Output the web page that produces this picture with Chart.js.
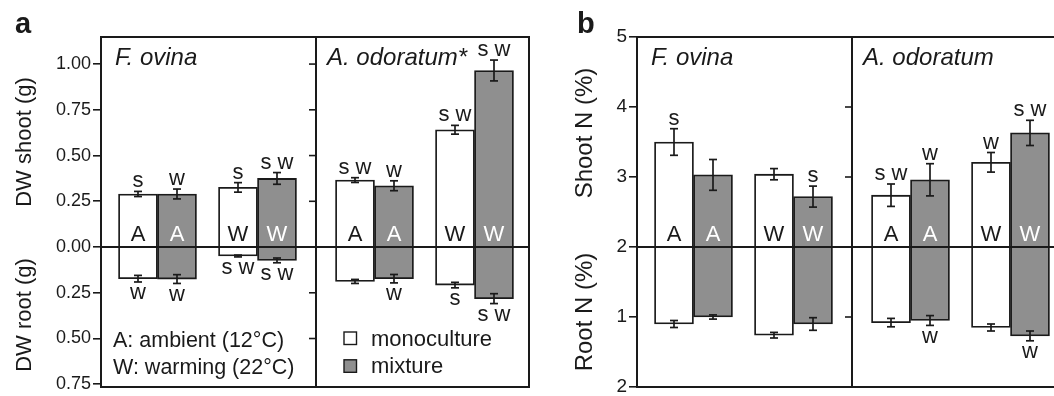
<!DOCTYPE html>
<html><head><meta charset="utf-8">
<script src="https://cdn.jsdelivr.net/npm/chart.js@4"></script>
<style>
html,body{margin:0;padding:0;background:#fff;overflow:hidden;width:1054px;height:396px}
#wa{position:absolute;left:0;top:0;width:540px;height:396px}
#wb{position:absolute;left:535px;top:0;width:540px;height:396px}
</style></head><body>
<div id="wa"><canvas id="ca" width="540" height="396"></canvas></div>
<div id="wb"><canvas id="cb" width="540" height="396"></canvas></div>
<script>
// ---------- categories ----------
const species = ['F. ovina', 'A. odoratum'];
const treatments = ['A', 'W'];
const cultures = ['monoculture', 'mixture'];
const treatmentKey = ['A: ambient (12°C)', 'W: warming (22°C)'];
// bar order in every series: F. ovina-A, F. ovina-W, A. odoratum-A, A. odoratum-W

// ---------- panel a: dry weight (g) ----------
const dwTickLabels = ['1.00', '0.75', '0.50', '0.25', '0.00', '0.25', '0.50', '0.75'];
const dwShootMono    = [0.290, 0.326, 0.366, 0.641];
const dwShootMonoErr = [0.014, 0.026, 0.013, 0.024];
const dwShootMix     = [0.290, 0.375, 0.335, 0.965];
const dwShootMixErr  = [0.027, 0.032, 0.027, 0.057];
const dwRootMono     = [0.173, 0.049, 0.188, 0.208];
const dwRootMonoErr  = [0.018, 0.005, 0.011, 0.015];
const dwRootMix      = [0.175, 0.073, 0.173, 0.282];
const dwRootMixErr   = [0.024, 0.013, 0.023, 0.027];
const dwShootMonoSig = ['s', 's', 's w', 's w'];
const dwShootMixSig  = ['w', 's w', 'w', 's w'];
const dwRootMonoSig  = ['w', 's w', '', 's'];
const dwRootMixSig   = ['w', 's w', 'w', 's w'];

// ---------- panel b: nitrogen (%) ----------
const nTickLabels = ['5', '4', '3', '2', '1', '2'];
const nShootMono    = [3.50, 3.04, 2.74, 3.21];
const nShootMonoErr = [0.19, 0.08, 0.16, 0.14];
const nShootMix     = [3.03, 2.72, 2.96, 3.63];
const nShootMixErr  = [0.22, 0.15, 0.23, 0.18];
const nRootMono     = [0.90, 0.74, 0.92, 0.85];
const nRootMonoErr  = [0.05, 0.04, 0.06, 0.05];
const nRootMix      = [1.00, 0.90, 0.95, 0.73];
const nRootMixErr   = [0.03, 0.09, 0.07, 0.07];
const nShootMonoSig = ['s', '', 's w', 'w'];
const nShootMixSig  = ['', 's', 'w', 's w'];
const nRootMonoSig  = ['', '', '', ''];
const nRootMixSig   = ['', '', 'w', 'w'];

// ---------- style / layout ----------
const FONT = "'Liberation Sans', Arial, Helvetica, sans-serif";
const INK = '#1a1a1a';
const GRAY = '#8f8f8f';
const X_MAX = 4.28, DIVIDER = 2.15;
function groupX(i) { const sp = Math.floor(i / 2), t = i % 2; return sp * 2.17 + 0.565 + t; }

const panels = {
  ca: {
    letter: 'a', letterX: 15, titleX: 31, titleSize: 22, tickSize: 18, axisWidth: 101, padRight: 11,
    yMin: -0.765, yMax: 1.148,
    tickLabels: dwTickLabels, tickVals: dwTickLabels.map((_, i) => 1 - 0.25 * i),
    shootY: v => v, rootY: v => -v,
    shoot: [dwShootMono, dwShootMix], shootErr: [dwShootMonoErr, dwShootMixErr],
    root: [dwRootMono, dwRootMix], rootErr: [dwRootMonoErr, dwRootMixErr],
    shootSig: [dwShootMonoSig, dwShootMixSig], rootSig: [dwRootMonoSig, dwRootMixSig],
    titles: ['DW shoot (g)', 'DW root (g)'], titleShift: [0, -2],
    speciesLabels: [species[0], species[1] + '*'],
    keys: true
  },
  cb: {
    letter: 'b', letterX: 42, titleX: 57, titleSize: 24, tickSize: 19, axisWidth: 102, padRight: 10,
    yMin: -2, yMax: 3,
    tickLabels: nTickLabels, tickVals: nTickLabels.map((_, i) => 3 - i),
    shootY: v => v - 2, rootY: v => v - 2,
    shoot: [nShootMono, nShootMix], shootErr: [nShootMonoErr, nShootMixErr],
    root: [nRootMono, nRootMix], rootErr: [nRootMonoErr, nRootMixErr],
    shootSig: [nShootMonoSig, nShootMixSig], rootSig: [nRootMonoSig, nRootMixSig],
    titles: ['Shoot N (%)', 'Root N (%)'], titleShift: [-9, -5],
    speciesLabels: [species[0], species[1]],
    keys: false
  }
};

const decor = {
  id: 'decor',
  afterDatasetsDraw(chart) {
    const P = panels[chart.canvas.id];
    const ctx = chart.ctx, ca = chart.chartArea, xs = chart.scales.x, ys = chart.scales.y;
    const line = (x1, y1, x2, y2) => { ctx.beginPath(); ctx.moveTo(x1, y1); ctx.lineTo(x2, y2); ctx.stroke(); };
    ctx.save();
    ctx.strokeStyle = INK; ctx.lineWidth = 2;
    const y0 = ys.getPixelForValue(0);
    const xd = xs.getPixelForValue(DIVIDER);
    line(ca.left, y0, ca.right, y0);
    line(xd, ca.top, xd, ca.bottom);
    ctx.lineWidth = 1.6;
    P.tickVals.forEach(v => {
      const y = ys.getPixelForValue(v);
      if (Math.abs(y - ca.top) > 4 && Math.abs(y - ca.bottom) > 4 && Math.abs(y - y0) > 2) line(xd - 7, y, xd, y);
    });
    ctx.lineWidth = 2;
    ctx.strokeRect(ca.left, ca.top, ca.right - ca.left, ca.bottom - ca.top);

    const errBar = (x, ya, yb) => {
      ctx.lineWidth = 1.7;
      line(x, ya, x, yb); line(x - 4, ya, x + 4, ya); line(x - 4, yb, x + 4, yb);
    };
    [0, 1].forEach(d => {
      chart.getDatasetMeta(d).data.forEach((bar, i) => {
        const x = bar.x;
        const s = P.shoot[d][i], se = P.shootErr[d][i];
        const s1 = ys.getPixelForValue(P.shootY(s + se)), s2 = ys.getPixelForValue(P.shootY(s - se));
        errBar(x, s1, s2);
        const r = P.root[d][i], re = P.rootErr[d][i];
        const r1 = ys.getPixelForValue(P.rootY(r + re)), r2 = ys.getPixelForValue(P.rootY(r - re));
        errBar(x, r1, r2);
        ctx.font = `22px ${FONT}`; ctx.textAlign = 'center'; ctx.textBaseline = 'alphabetic';
        ctx.fillStyle = INK;
        if (P.shootSig[d][i]) ctx.fillText(P.shootSig[d][i], x, Math.min(s1, s2) - 4);
        if (P.rootSig[d][i]) ctx.fillText(P.rootSig[d][i], x, Math.max(r1, r2) + 17.5);
        ctx.fillStyle = d === 0 ? INK : '#ffffff';
        ctx.fillText(treatments[i % 2], x, y0 - 6);
      });
    });

    // species labels
    ctx.fillStyle = INK; ctx.textAlign = 'left';
    ctx.font = `italic 24px ${FONT}`;
    ctx.fillText(P.speciesLabels[0], ca.left + 14, ca.top + 28);
    ctx.fillText(P.speciesLabels[1], xd + 11, ca.top + 28);

    // axis titles
    ctx.font = `${P.titleSize}px ${FONT}`;
    const vText = (t, x, yc) => { ctx.save(); ctx.translate(x, yc); ctx.rotate(-Math.PI / 2); ctx.textAlign = 'center'; ctx.fillText(t, 0, 0); ctx.restore(); };
    vText(P.titles[0], P.titleX, (ca.top + y0) / 2 + P.titleShift[0]);
    vText(P.titles[1], P.titleX, (y0 + ca.bottom) / 2 + P.titleShift[1]);

    // panel letter
    ctx.font = `bold 29px ${FONT}`; ctx.textAlign = 'left';
    ctx.fillText(P.letter, P.letterX, 33);

    if (P.keys) {
      ctx.font = `21.5px ${FONT}`;
      ctx.fillText(treatmentKey[0], ca.left + 12, 346.5);
      ctx.fillText(treatmentKey[1], ca.left + 12, 374);
      ctx.font = `22px ${FONT}`;
      chart.data.datasets.forEach((ds, k) => {
        const by = 345.5 + k * 27.8;
        ctx.fillStyle = ds.backgroundColor; ctx.fillRect(xd + 28, by - 13.5, 12.5, 12.5);
        ctx.lineWidth = 1.4; ctx.strokeStyle = INK; ctx.strokeRect(xd + 28, by - 13.5, 12.5, 12.5);
        ctx.fillStyle = INK; ctx.fillText(ds.label, xd + 55, by);
      });
    }
    ctx.restore();
  }
};

function makeChart(id) {
  const P = panels[id];
  const mk = d => P.shoot[d].map((s, i) => ({ x: groupX(i), y: [P.rootY(P.root[d][i]), P.shootY(s)] }));
  return new Chart(document.getElementById(id), {
    type: 'bar',
    data: {
      datasets: [
        { label: cultures[0], data: mk(0), backgroundColor: '#ffffff', borderColor: INK, borderWidth: 1.8, borderSkipped: false, barThickness: 39 },
        { label: cultures[1], data: mk(1), backgroundColor: GRAY, borderColor: INK, borderWidth: 1.8, borderSkipped: false, barThickness: 39 }
      ]
    },
    options: {
      responsive: false, animation: false, devicePixelRatio: 1,
      layout: { padding: { left: 0, top: 37, right: P.padRight, bottom: 9 } },
      plugins: { legend: { display: false }, tooltip: { enabled: false } },
      scales: {
        x: { type: 'linear', display: false, min: 0, max: X_MAX, offset: false },
        y: {
          min: P.yMin, max: P.yMax,
          afterBuildTicks: s => { s.ticks = P.tickVals.slice().sort((a, b) => a - b).map(v => ({ value: v })); },
          afterFit: s => { s.width = P.axisWidth; s.paddingTop = 0; s.paddingBottom = 0; },
          grid: { display: true, drawOnChartArea: false, drawTicks: true, tickLength: 8, color: INK, lineWidth: 1.6 },
          border: { display: false },
          ticks: {
            autoSkip: false, padding: 2, color: INK, font: { family: FONT, size: P.tickSize },
            callback: v => P.tickLabels[P.tickVals.indexOf(v)]
          }
        }
      }
    },
    plugins: [decor]
  });
}
Chart.defaults.font.family = FONT;
makeChart('ca');
makeChart('cb');
</script>
</body></html>
